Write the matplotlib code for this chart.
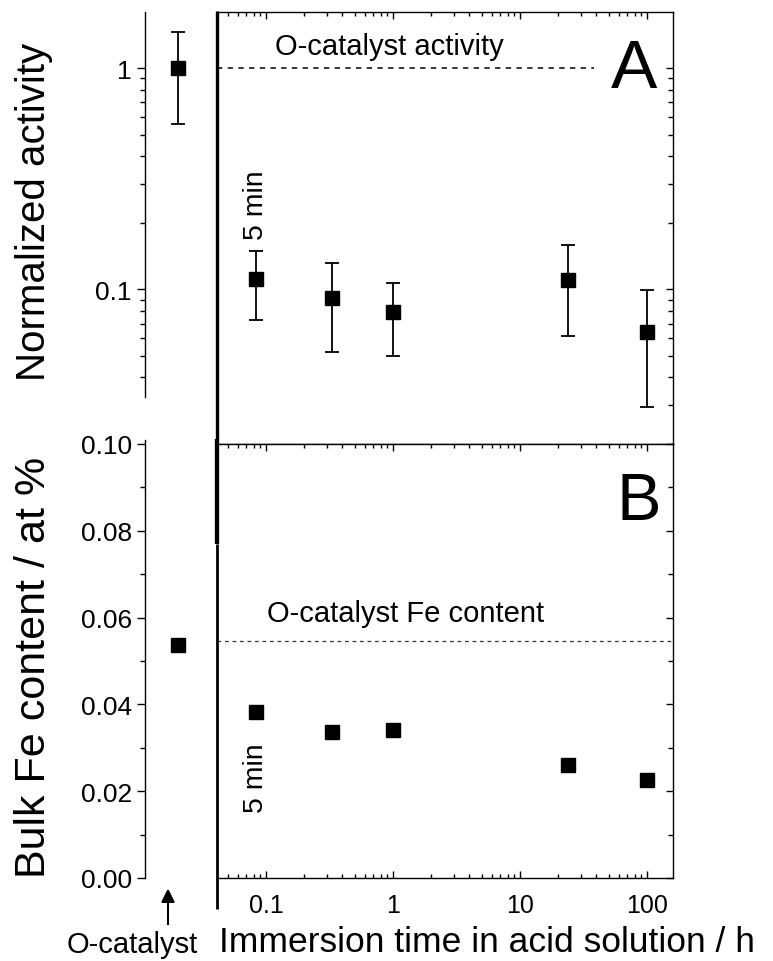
import numpy as np
import matplotlib
matplotlib.use('Agg')
import matplotlib.pyplot as plt
from matplotlib.lines import Line2D
from matplotlib.ticker import FuncFormatter, NullFormatter, MultipleLocator

plt.rcParams['font.family'] = ['Liberation Sans', 'DejaVu Sans']

# --- data ---
times = [5 / 60, 20 / 60, 1, 24, 100]            # immersion time / h
activity = [0.111, 0.091, 0.079, 0.110, 0.064]   # normalized activity
act_hi = [0.149, 0.131, 0.107, 0.158, 0.099]
act_lo = [0.073, 0.052, 0.050, 0.0615, 0.0295]
fe_content = [0.0382, 0.0336, 0.0341, 0.0261, 0.0226]  # at %

o_activity = 1.0
o_act_hi = 1.45
o_act_lo = 0.558
o_fe = 0.0538
o_fe_line = 0.0545
o_act_line_end = 38   # dashed reference stops before the "A"

x_ticks = [0.1, 1, 10, 100]
fe_ticks = [0.00, 0.02, 0.04, 0.06, 0.08, 0.10]

W, H = 773, 962
fig = plt.figure(figsize=(W / 100, H / 100), dpi=100)

# panel boxes (pixels -> figure fraction)
def box(x0, y0, x1, y1):
    return [x0 / W, 1 - y1 / H, (x1 - x0) / W, (y1 - y0) / H]

ax_a = fig.add_axes(box(217, 12.7, 672.5, 445))
ax_b = fig.add_axes(box(217, 445, 672.5, 879))
ax_la = fig.add_axes(box(145, 12.7, 211, 445))
ax_lb = fig.add_axes(box(145, 445, 211, 879))

MS = 9.5
TXT = 21
err_kw = dict(fmt='s', color='black', ms=MS, elinewidth=1.3, capsize=4.8, capthick=1.3)

# --- panel A ---
act = np.array(activity)
yerr = [act - np.array(act_lo), np.array(act_hi) - act]
ax_a.errorbar(times, activity, yerr=yerr, **err_kw)
ax_a.set_xscale('log')
ax_a.set_yscale('log')
ax_a.set_xlim(0.0411, 158.8)
ax_a.set_ylim(0.02, 1.8)
ax_a.hlines(o_activity, 0.0411, o_act_line_end, colors='black', linestyles=(0, (3.5, 3.5)), lw=1.1)
ax_a.text(0.127, 0.902, 'O-catalyst activity', transform=ax_a.transAxes,
          fontsize=TXT, ha='left', va='baseline')
ax_a.text(0.966, 0.826, 'A', transform=ax_a.transAxes, fontsize=50, ha='right', va='baseline')
ax_a.text(times[0], 0.474, '5 min', transform=ax_a.get_xaxis_transform(),
          fontsize=20.5, rotation=90, ha='center', va='bottom')

# --- panel B ---
ax_b.plot(times, fe_content, 's', color='black', ms=MS)
ax_b.set_xscale('log')
ax_b.set_xlim(0.0411, 158.8)
ax_b.set_ylim(0, 0.10)
ax_b.axhline(o_fe_line, color='#333333', ls=(0, (3, 3)), lw=0.9)
ax_b.text(0.109, 0.593, 'O-catalyst Fe content', transform=ax_b.transAxes,
          fontsize=TXT, ha='left', va='baseline')
ax_b.text(0.975, 0.827, 'B', transform=ax_b.transAxes, fontsize=48, ha='right', va='baseline')
ax_b.text(times[0], 0.152, '5 min', transform=ax_b.get_xaxis_transform(),
          fontsize=20.5, rotation=90, ha='center', va='bottom')

for ax in (ax_a, ax_b):
    for s in ax.spines.values():
        s.set_linewidth(1.0)
    ax.spines['left'].set_visible(False)
    ax.yaxis.set_ticks_position('right')
    ax.tick_params(axis='y', which='both', direction='in', labelright=False, labelleft=False, width=1)
    ax.tick_params(axis='y', which='major', length=5)
    ax.tick_params(axis='y', which='minor', length=3.5)
    ax.xaxis.set_minor_formatter(NullFormatter())

ax_a.yaxis.set_minor_formatter(NullFormatter())
ax_a.xaxis.set_ticks_position('top')
ax_a.tick_params(axis='x', which='both', direction='in', labeltop=False, labelbottom=False, width=1)
ax_a.tick_params(axis='x', which='major', length=5)
ax_a.tick_params(axis='x', which='minor', length=3)

ax_b.yaxis.set_major_locator(MultipleLocator(0.02))
ax_b.yaxis.set_minor_locator(MultipleLocator(0.01))
ax_b.xaxis.set_ticks_position('both')
ax_b.set_xticks(x_ticks)
ax_b.xaxis.set_major_formatter(FuncFormatter(lambda v, p: '%g' % v))
ax_b.tick_params(axis='x', which='both', direction='in', labelsize=18, width=1, pad=11)
ax_b.tick_params(axis='x', which='major', length=5)
ax_b.tick_params(axis='x', which='minor', length=3)

# --- O-catalyst reference column ---
ax_la.errorbar([1], [o_activity], yerr=[[o_activity - o_act_lo], [o_act_hi - o_activity]], **err_kw)
ax_la.set_yscale('log')
ax_la.set_ylim(0.02, 1.8)
ax_la.set_xlim(0, 2)
ax_la.set_yticks([0.1, 1])
ax_la.set_yticks([k * 0.01 for k in range(4, 10)] + [k * 0.1 for k in range(2, 10)], minor=True)
ax_la.yaxis.set_major_formatter(FuncFormatter(lambda v, p: '%g' % v))
ax_la.yaxis.set_minor_formatter(NullFormatter())
ax_la.spines['left'].set_bounds(0.0325, 1.8)

ax_lb.plot([1], [o_fe], 's', color='black', ms=MS)
ax_lb.set_ylim(0, 0.10)
ax_lb.set_xlim(0, 2)
ax_lb.set_yticks(fe_ticks)
ax_lb.yaxis.set_minor_locator(MultipleLocator(0.01))
ax_lb.yaxis.set_major_formatter(FuncFormatter(lambda v, p: '%.2f' % v))
ax_lb.spines['left'].set_bounds(0, 0.101)

for ax in (ax_la, ax_lb):
    for k in ('top', 'right', 'bottom'):
        ax.spines[k].set_visible(False)
    ax.spines['left'].set_linewidth(1.0)
    ax.set_xticks([])
    ax.patch.set_alpha(0)
    ax.tick_params(axis='y', which='both', direction='out', labelsize=19, width=1)
    ax.tick_params(axis='y', which='major', length=6)
    ax.tick_params(axis='y', which='minor', length=3.5)

# axis titles
fig.text(34 / W, 1 - 212 / H, 'Normalized activity', fontsize=29, rotation=90,
         ha='center', va='center')
fig.text(34 / W, 1 - 667 / H, 'Bulk Fe content / at %', fontsize=31, rotation=90,
         ha='center', va='center')
fig.text(487 / W, 1 - 952 / H, 'Immersion time in acid solution / h', fontsize=25.5,
         ha='center', va='baseline')

# divider between reference column and time axis (heavier in the upper part)
for y0, y1, lw in [(12, 440, 2.4), (440, 545, 3.1), (545, 910, 2.0)]:
    fig.add_artist(Line2D([216.5 / W, 216.5 / W], [1 - y0 / H, 1 - y1 / H],
                          color='black', lw=lw, solid_capstyle='butt'))

fig.text(198 / W, 1 - 953 / H, 'O-catalyst', fontsize=21, ha='right', va='baseline')
fig.add_artist(plt.annotate('', xy=(168 / W, 1 - 887 / H), xytext=(168 / W, 1 - 928 / H),
                            xycoords='figure fraction', textcoords='figure fraction',
                            arrowprops=dict(arrowstyle='-|>', color='black', lw=1.3, mutation_scale=20)))

fig.savefig('out.png', dpi=100)
